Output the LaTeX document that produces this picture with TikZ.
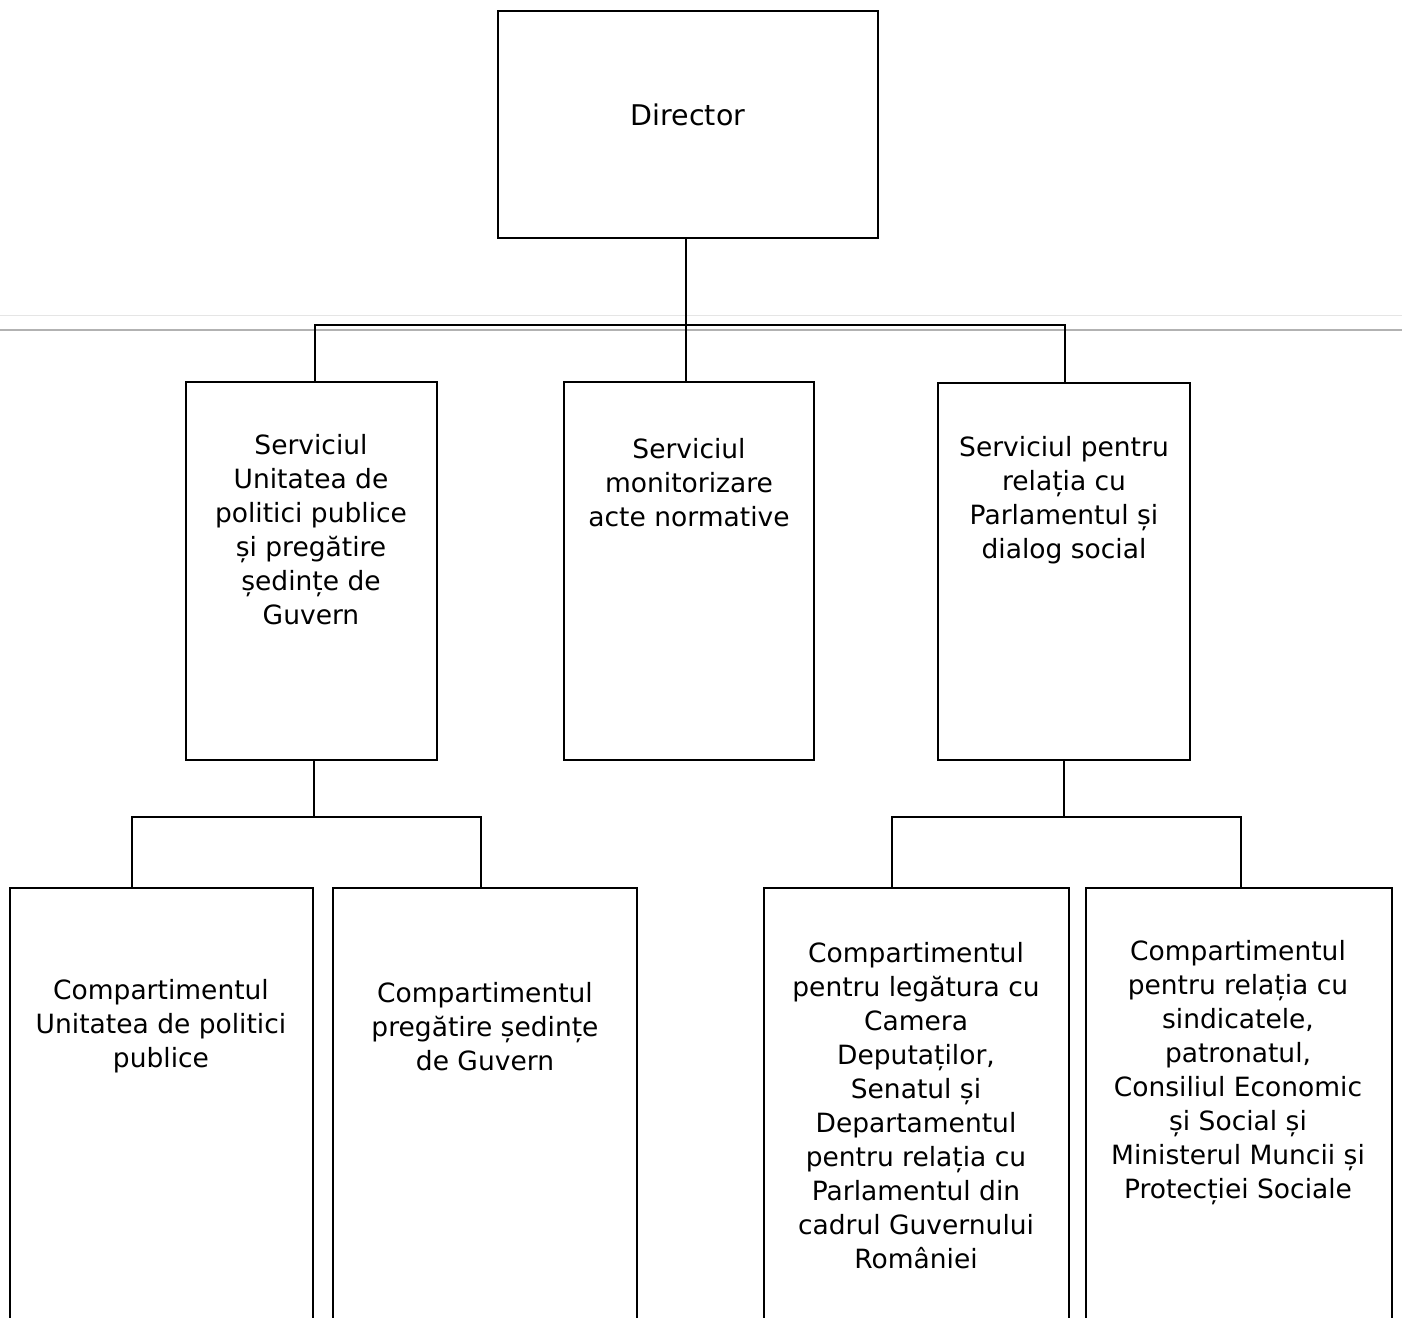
\documentclass[tikz,border=0pt]{standalone}
\usepackage{fontspec}
\setmainfont{DejaVu Sans}
\begin{document}
\begin{tikzpicture}[x=1pt,y=-1pt,
    box/.style={draw,line width=2pt,inner sep=0pt,minimum width=#1},
    txt/.style={align=center,inner sep=0pt,font=\fontsize{26.5}{34}\selectfont},
    conn/.style={line width=2pt}]
    \useasboundingbox (0,0) rectangle (1402,1317);
    \fill[white] (0,0) rectangle (1402,1317);
    \clip (0,0) rectangle (1402,1317);
    % scan marks
    \draw[gray!20,line width=1pt] (0,315) -- (1402,315);
    \draw[gray!60,line width=1.5pt] (0,330) -- (1402,330);
    % boxes
    \node[box=380pt,minimum height=227pt] (dir) at (688,124.5) {};
    \node[box=251pt,minimum height=378pt] (srvA) at (311.5,571) {};
    \node[box=250pt,minimum height=378pt] (srvB) at (689,571) {};
    \node[box=252pt,minimum height=377pt] (srvC) at (1064,571.5) {};
    \node[box=303pt,minimum height=500pt] (cpD) at (161.5,1138) {};
    \node[box=304pt,minimum height=500pt] (cpE) at (485,1138) {};
    \node[box=305pt,minimum height=500pt] (cpF) at (916.5,1138) {};
    \node[box=306pt,minimum height=500pt] (cpG) at (1239,1138) {};
    % texts
    \node[txt,font=\fontsize{28.5}{34}\selectfont] (tdir) at (688,115) {Director};
    \node[txt] (tA) at (311,530) {Serviciul\\Unitatea de\\politici publice\\și pregătire\\ședințe de\\Guvern};
    \node[txt] (tB) at (689,482.5) {Serviciul\\monitorizare\\acte normative};
    \node[txt] (tC) at (1064,500.5) {Serviciul pentru\\relația cu\\Parlamentul și\\dialog social};
    \node[txt] (tD) at (161,1026) {Compartimentul\\Unitatea de politici\\publice};
    \node[txt] (tE) at (485,1027) {Compartimentul\\pregătire ședințe\\de Guvern};
    \node[txt] (tF) at (916,1106) {Compartimentul\\pentru legătura cu\\Camera\\Deputaților,\\Senatul și\\Departamentul\\pentru relația cu\\Parlamentul din\\cadrul Guvernului\\României};
    \node[txt] (tG) at (1238,1072.5) {Compartimentul\\pentru relația cu\\sindicatele,\\patronatul,\\Consiliul Economic\\și Social și\\Ministerul Muncii și\\Protecției Sociale};
    % connectors
    \coordinate (busTop) at (686,325);
    \coordinate (busA) at (314,817);
    \coordinate (busC) at (1064,817);
    \draw[conn] ([xshift=-2pt]dir.south) -- ([xshift=-2pt]dir.south |- srvB.north);
    \draw[conn] ([xshift=3.5pt]srvA.north) |- (busTop) -| ([xshift=1pt]srvC.north);
    \draw[conn] ([xshift=2.5pt]srvA.south) -- (busA);
    \draw[conn] ([xshift=-29.5pt]cpD.north) |- (busA) -| ([xshift=-4pt]cpE.north);
    \draw[conn] (srvC.south) -- (busC);
    \draw[conn] ([xshift=-24.5pt]cpF.north) |- (busC) -| ([xshift=2pt]cpG.north);
\end{tikzpicture}
\end{document}
